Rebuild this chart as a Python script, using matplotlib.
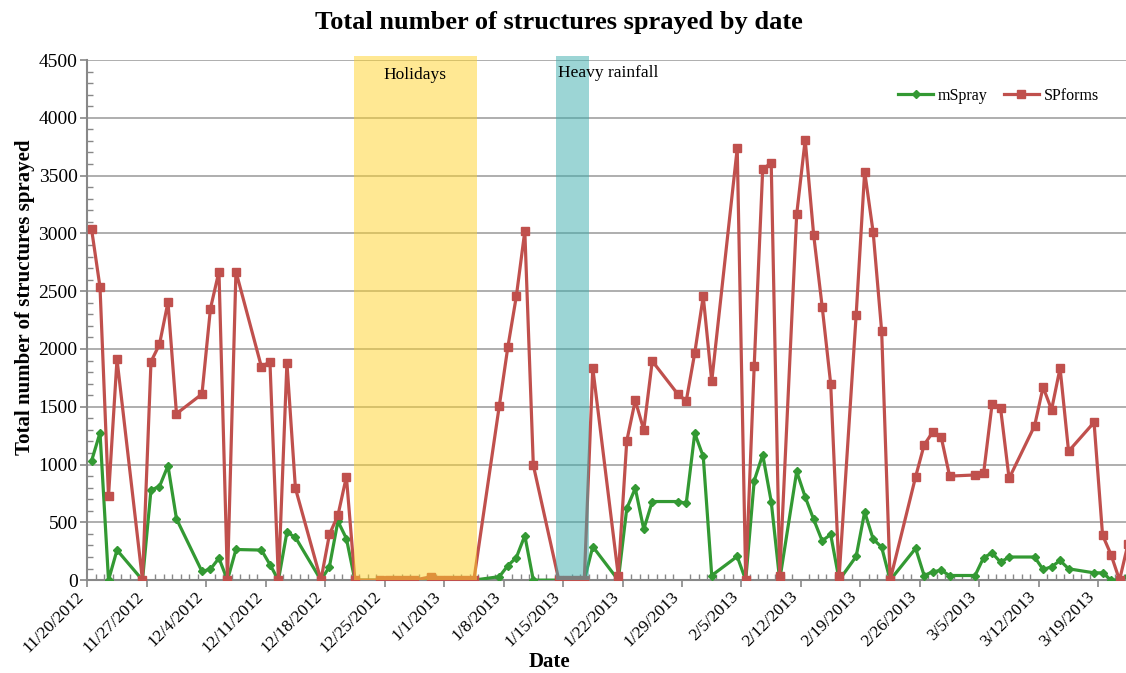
import pandas as pd
import matplotlib
matplotlib.use("Agg")
from matplotlib import pyplot as plt
from matplotlib.ticker import MultipleLocator
import matplotlib.dates as mdates

dates = ["11/20/2012", "11/21/2012", "11/22/2012", "11/23/2012",
         "11/26/2012", "11/27/2012", "11/28/2012", "11/29/2012", "11/30/2012",
         "12/3/2012", "12/4/2012", "12/5/2012", "12/6/2012", "12/7/2012",
         "12/10/2012", "12/11/2012", "12/12/2012", "12/13/2012", "12/14/2012",
         "12/17/2012", "12/18/2012", "12/19/2012", "12/20/2012", "12/21/2012",
         "12/24/2012", "12/25/2012", "12/26/2012", "12/27/2012", "12/28/2012",
         "12/30/2012", "12/31/2012", "1/1/2013", "1/2/2013", "1/3/2013", "1/4/2013",
         "1/7/2013", "1/8/2013", "1/9/2013", "1/10/2013", "1/11/2013",
         "1/14/2013", "1/15/2013", "1/16/2013", "1/17/2013", "1/18/2013",
         "1/21/2013", "1/22/2013", "1/23/2013", "1/24/2013", "1/25/2013",
         "1/28/2013", "1/29/2013", "1/30/2013", "1/31/2013", "2/1/2013",
         "2/4/2013", "2/5/2013", "2/6/2013", "2/7/2013", "2/8/2013", "2/9/2013",
         "2/11/2013", "2/12/2013", "2/13/2013", "2/14/2013", "2/15/2013", "2/16/2013",
         "2/18/2013", "2/19/2013", "2/20/2013", "2/21/2013", "2/22/2013",
         "2/25/2013", "2/26/2013", "2/27/2013", "2/28/2013", "3/1/2013",
         "3/4/2013", "3/5/2013", "3/6/2013", "3/7/2013", "3/8/2013",
         "3/11/2013", "3/12/2013", "3/13/2013", "3/14/2013", "3/15/2013",
         "3/18/2013", "3/19/2013", "3/20/2013", "3/21/2013", "3/22/2013"]

spforms = [3040, 2535, 725, 1910,
           0, 1890, 2040, 2405, 1440,
           1610, 2350, 2670, 0, 2670,
           1845, 1890, 0, 1880, 795,
           0, 395, 560, 895, 0,
           0, 0, 0, 0, 0,
           30, 0, 0, 0, 0, 0,
           1510, 2015, 2455, 3020, 995,
           0, 0, 0, 0, 1835,
           40, 1205, 1555, 1300, 1895,
           1610, 1550, 1965, 2455, 1720,
           3735, 0, 1855, 3555, 3610, 40,
           3165, 3810, 2985, 2365, 1700, 35,
           2295, 3535, 3010, 2155, 0,
           895, 1170, 1280, 1240, 900,
           910, 925, 1525, 1485, 880,
           1335, 1670, 1475, 1835, 1115,
           1365, 390, 220, 0, 315]

mspray = [1030, 1275, 0, 260,
          0, 780, 810, 990, 530,
          75, 95, 190, 0, 265,
          260, 135, 0, 415, 370,
          0, 115, 510, 360, 0,
          0, 0, 0, 0, 0,
          0, 0, 0, 0, 0, 0,
          30, 125, 195, 385, 0,
          0, 0, 0, 0, 290,
          0, 620, 795, 440, 680,
          680, 665, 1270, 1070, 40,
          205, 0, 860, 1085, 680, 0,
          940, 720, 525, 340, 395, 0,
          205, 590, 355, 285, 0,
          275, 40, 72, 85, 40,
          40, 195, 235, 155, 200,
          200, 92, 115, 170, 98,
          63, 63, 0, 0, 35]

week_ticks = ["11/20/2012", "11/27/2012", "12/4/2012", "12/11/2012", "12/18/2012",
              "12/25/2012", "1/1/2013", "1/8/2013", "1/15/2013", "1/22/2013",
              "1/29/2013", "2/5/2013", "2/12/2013", "2/19/2013", "2/26/2013",
              "3/5/2013", "3/12/2013", "3/19/2013"]

plt.rcParams["font.family"] = ["Liberation Serif", "DejaVu Serif"]

x = pd.to_datetime(dates, format="%m/%d/%Y") + pd.Timedelta(hours=12)
ticks = pd.to_datetime(week_ticks, format="%m/%d/%Y")
start = pd.Timestamp("2012-11-20")

fig = plt.figure(figsize=(11.26, 6.73), dpi=100)
ax = fig.add_axes([0.0775, 0.138, 0.9225, 0.7728])

green = "#339933"
red = "#C0504D"
ax.plot(x, mspray, color=green, lw=2.3, marker="D", ms=4, label="mSpray", zorder=3)
ax.plot(x, spforms, color=red, lw=2.3, marker="s", ms=6, label="SPforms", zorder=4)

# shaded periods drawn over the lines
ax.axvspan(start + pd.Timedelta(days=31.4), start + pd.Timedelta(days=45.83),
           ymin=0, ymax=1.008, color="#FFD228", alpha=0.5, lw=0, zorder=5, clip_on=False)
ax.axvspan(start + pd.Timedelta(days=55.17), start + pd.Timedelta(days=59.09),
           ymin=0, ymax=1.008, color="#3BADAD", alpha=0.5, lw=0, zorder=5, clip_on=False)
ax.text(start + pd.Timedelta(days=38.6), 4370, "Holidays", ha="center", va="center",
        fontsize=12.5, zorder=6)
ax.text(start + pd.Timedelta(days=55.45), 4390, "Heavy rainfall", ha="left", va="center",
        fontsize=12.5, zorder=6)

ax.set_ylim(0, 4500)
ax.set_xlim(start, start + pd.Timedelta(days=122.26))
ax.yaxis.set_major_locator(MultipleLocator(500))
ax.yaxis.set_minor_locator(MultipleLocator(100))
ax.set_xticks(ticks)
ax.set_xticklabels(week_ticks, rotation=45, ha="right", va="top", fontsize=12.5)
ax.xaxis.set_minor_locator(mdates.DayLocator())

ax.grid(axis="y", color="#999999", lw=1.1)
ax.set_axisbelow(True)
for s in ["top", "right"]:
    ax.spines[s].set_visible(False)
for s in ["left", "bottom"]:
    ax.spines[s].set_color("#888888")
    ax.spines[s].set_linewidth(1.5)
ax.tick_params(which="major", direction="out", length=5, color="#888888", width=1.2,
               pad=2)
ax.tick_params(axis="y", labelsize=14)
ax.tick_params(axis="x", pad=1)
ax.tick_params(which="minor", direction="in", length=4, color="#888888", width=1)

fig.text(559 / 1126, 1 - 22 / 673, "Total number of structures sprayed by date",
         fontsize=19, fontweight="bold", ha="center", va="center")
fig.text(549 / 1126, 1 - 662 / 673, "Date", fontsize=15, fontweight="bold",
         ha="center", va="center")
ax.set_ylabel("Total number of structures sprayed", fontsize=15, fontweight="bold")
ax.yaxis.set_label_coords(-0.0503, 0.544)

ax.legend(loc="center right", bbox_to_anchor=(1099 / 1126, 1 - 96 / 673),
          bbox_transform=fig.transFigure, ncol=2, frameon=False, fontsize=11.5,
          handlelength=2.2, handletextpad=0.3, columnspacing=1.0,
          borderpad=0, borderaxespad=0)

fig.savefig("out.png", dpi=100)
